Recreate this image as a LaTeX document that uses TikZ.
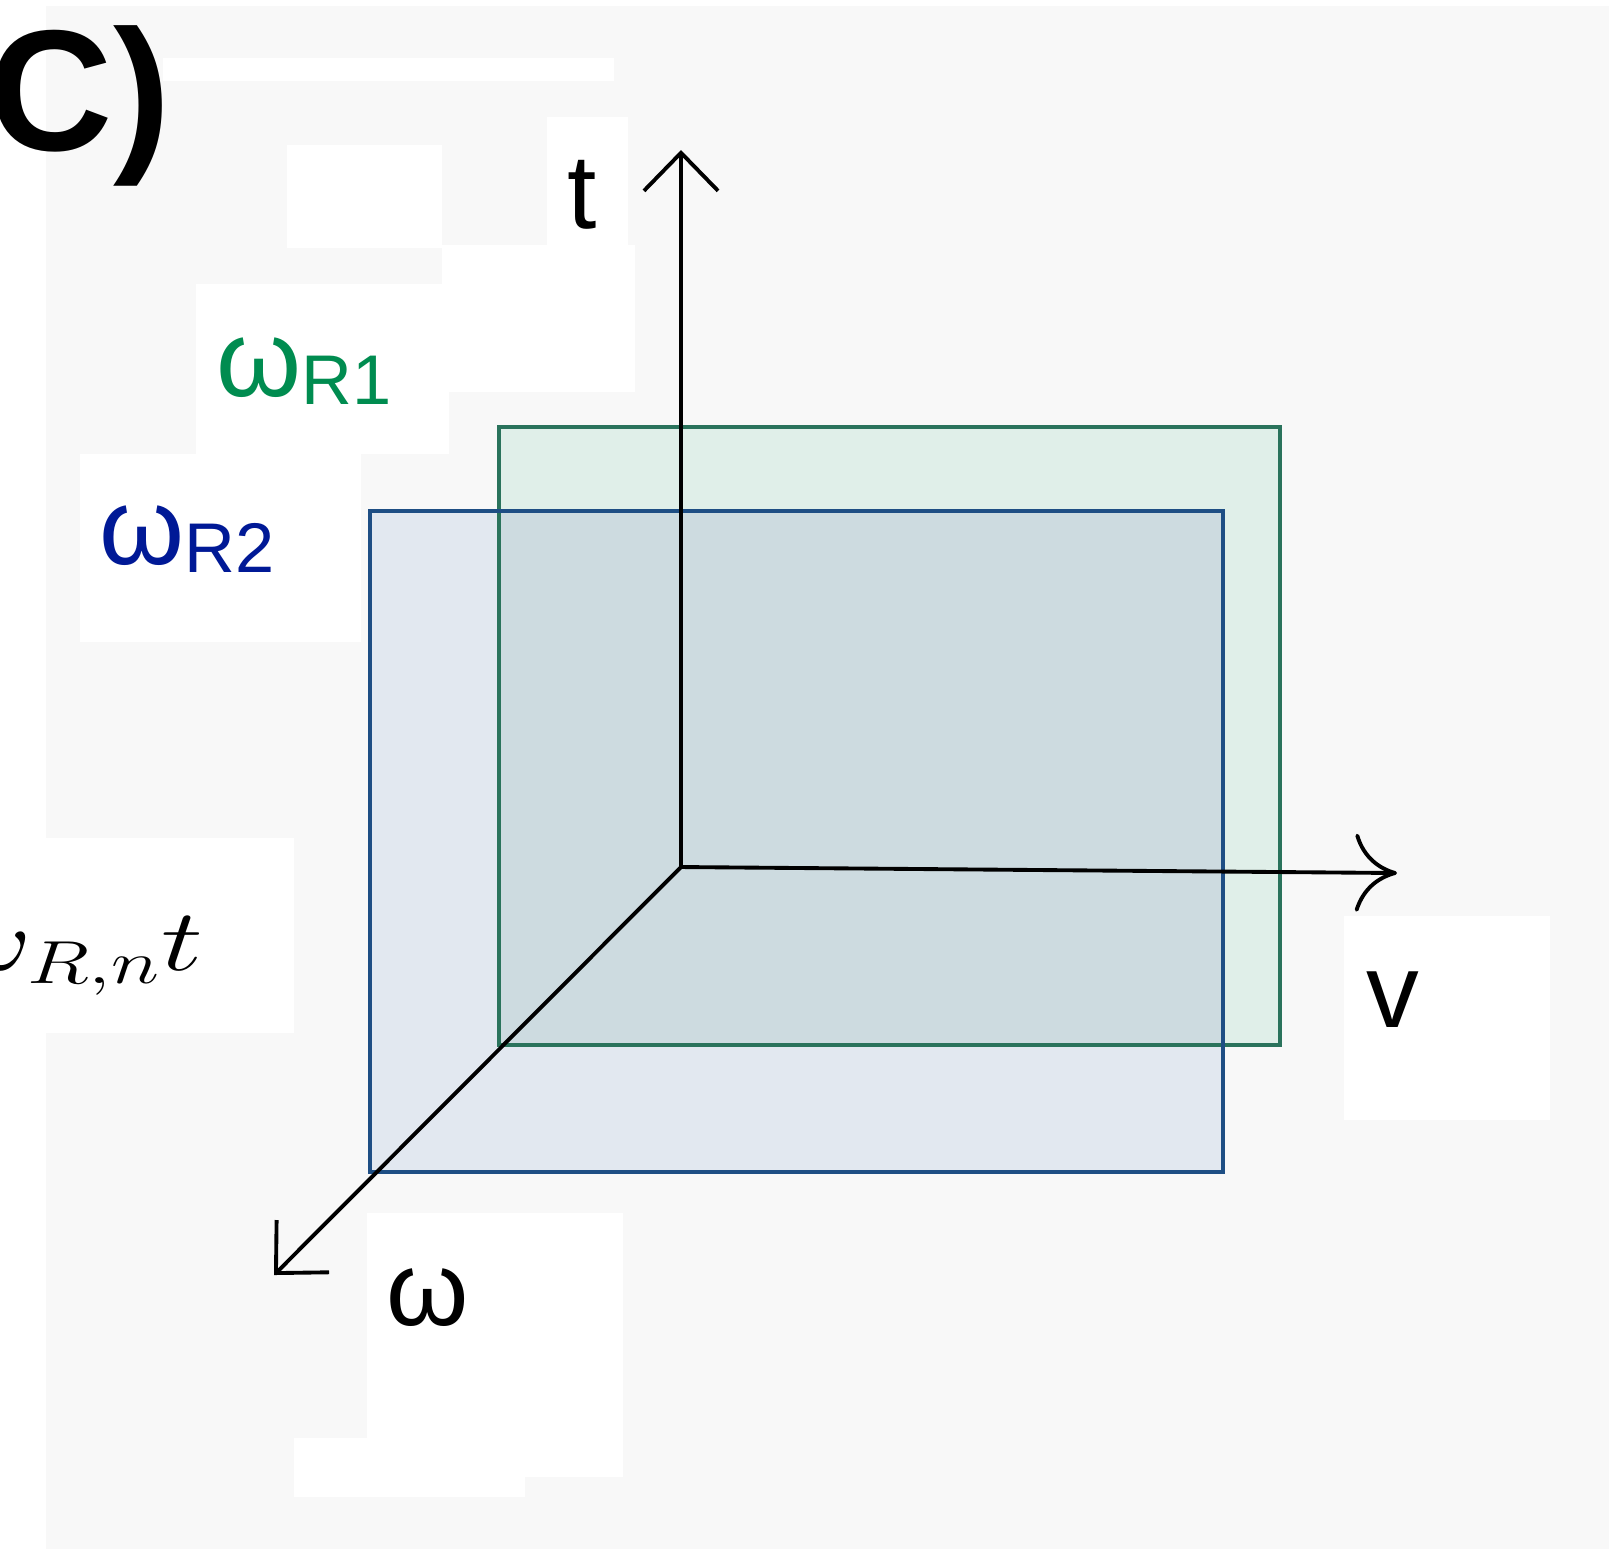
\documentclass[tikz,border=0pt]{standalone}
\usepackage{xcolor}
\usepackage{amsmath}
\usepackage{fontspec}
\setmainfont{Liberation Sans}
\usepackage{tikz}
\usetikzlibrary{arrows.meta, positioning}
\definecolor{bggray}{RGB}{248,248,248}
\definecolor{mygreen}{RGB}{42,115,92}
\definecolor{myblue}{RGB}{30,78,132}
\definecolor{hdrgreen}{RGB}{224,239,233}
\definecolor{hdrblue}{RGB}{226,232,240}
\definecolor{hdrboth}{RGB}{205,219,224}
\definecolor{txtgreen}{RGB}{0,140,80}
\definecolor{txtblue}{RGB}{0,25,150}
\newcommand{\sublab}[1]{\raisebox{-2.3pt}{\fontsize{20}{20}\selectfont #1}}
\tikzset{
  axis/.style={-{Straight Barb[length=0.38cm, width=0.74cm]}, line width=1.1pt, color=black},
  curvedaxis/.style={-{Computer Modern Rightarrow[length=0.42cm, width=0.78cm]}, line width=1.1pt, color=black},
  greenplane/.style={draw=mygreen, line width=1.1pt},
  blueplane/.style={draw=myblue, line width=1.1pt},
  axislabel/.style={font=\fontsize{30}{30}\selectfont, inner sep=0pt},
  planelabel/.style={font=\fontsize{31}{31}\selectfont, inner sep=0pt},
  panel/.style={font=\fontsize{49}{49}\selectfont\bfseries, inner sep=0pt},
  fraglabel/.style={font=\fontsize{23}{23}\selectfont, inner sep=0pt}
}

\begin{document}
\begin{tikzpicture}[x=0.01cm, y=-0.01cm]
  \useasboundingbox (0,0) rectangle (1619,1550);
  \clip (0,0) rectangle (1619,1550);
  % backdrop with pasted white patches
  \fill[white] (0,0) rectangle (1619,1550);
  \fill[bggray] (46,6) rectangle (1609,1549);
  \foreach \xa/\ya/\xb/\yb in {163/58/614/81, 287/145/442/248, 547/117/628/245,
      196/284/449/454, 442/245/635/392, 80/454/361/642, 0/838/294/1033,
      1344/916/1550/1120, 367/1213/623/1477, 294/1438/525/1497}
    \fill[white] (\xa,\ya) rectangle (\xb,\yb);

  % planes
  \fill[hdrgreen] (499,427) rectangle (1280,1045);
  \fill[hdrblue] (370,511) rectangle (1223,1172);
  \fill[hdrboth] (499,511) rectangle (1223,1045);
  \draw[greenplane] (499,427) rectangle (1280,1045);
  \draw[blueplane] (370,511) rectangle (1223,1172);

  % axes
  \coordinate (o) at (681,867);
  \coordinate (ttip) at (681,150);
  \coordinate (vtip) at (1397,873);
  \coordinate (wtip) at (274,1275);
  \draw[axis] (o) -- (ttip);
  \draw[curvedaxis] (o) -- (vtip);
  \draw[axis] (o) -- (wtip);

  % labels
  \node[panel, anchor=base west] (panel) at (-12,150) {C)};
  \node[axislabel, anchor=base] (tlab) at (582,228) {t};
  \node[axislabel, anchor=base] (vlab) at (1393,1027) {v};
  \node[axislabel, anchor=base west] (wlab) at (386,1325) {ω};
  \node[planelabel, text=txtgreen, anchor=base west] (r1lab) at (216,396) {ω\sublab{R1}};
  \node[planelabel, text=txtblue, anchor=base west] (r2lab) at (99,564) {ω\sublab{R2}};
  \node[fraglabel, anchor=base east] (frag) at (204,970) {\scalebox{1.35}[1]{$\omega_{R,n}t$}};
\end{tikzpicture}
\end{document}
